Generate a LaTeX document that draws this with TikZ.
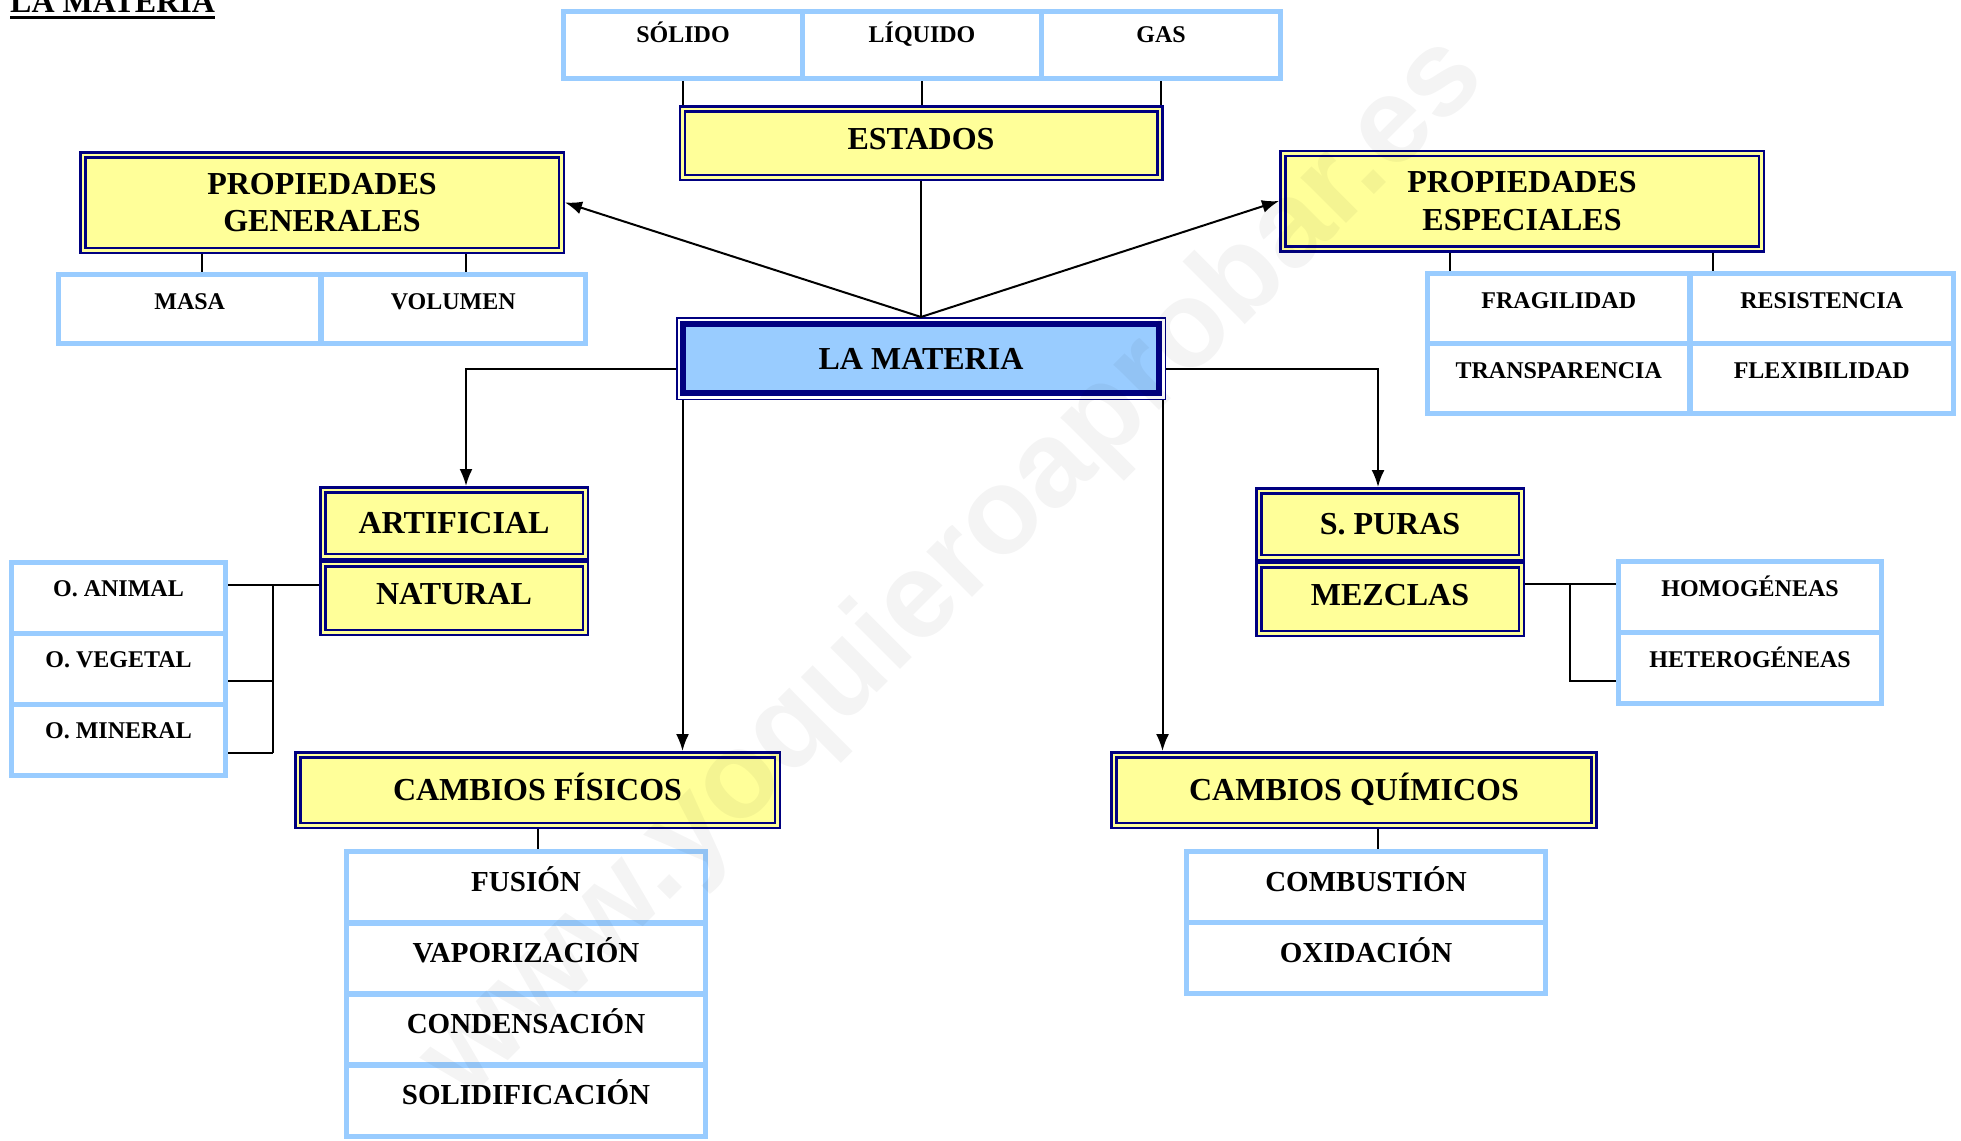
\documentclass[tikz,border=0pt]{standalone}
\usepackage{fontspec}
\setmainfont{Liberation Serif}
\newfontfamily\wmfont{Liberation Sans}
\usetikzlibrary{arrows.meta}
\definecolor{navyb}{HTML}{000080}
\definecolor{yfill}{HTML}{FFFF99}
\definecolor{lblue}{HTML}{99CCFF}
\begin{document}
\begin{tikzpicture}[x=1pt,y=-1pt,
  ybox/.style={draw=navyb, line width=2.5pt, double=yfill, double distance=2.5pt, fill=yfill,
    outer sep=3.75pt, inner sep=0pt, font=\bfseries\fontsize{32}{37.5}\selectfont, align=center},
  yone/.style={ybox, text height=21pt, text depth=0pt},
  cell/.style={draw=lblue, line width=5.5pt, fill=white, inner sep=0pt, outer sep=2.75pt,
    font=\bfseries\fontsize{24}{28}\selectfont, text height=16pt},
  bigcell/.style={cell, font=\bfseries\fontsize{29}{34}\selectfont, text height=19pt, text depth=11pt,
    minimum width=359pt, minimum height=71.25pt},
  conn/.style={line width=2pt, black},
  arr/.style={conn, -{Latex[length=17pt,width=13pt]}},
]
\useasboundingbox (0,0) rectangle (1961,1140);

% title
\node[anchor=base west, inner sep=0pt, font=\bfseries\fontsize{32}{36}\selectfont] (title) at (10,13) {LA MATERIA};
\draw[line width=3pt] ([yshift=-4.5pt]title.base west) -- ([yshift=-4.5pt]title.base east);

% states
\node[cell, minimum width=239pt, minimum height=67pt, text depth=20pt] (solido) at (683,45) {SÓLIDO};
\node[cell, minimum width=239pt, minimum height=67pt, text depth=20pt] (liquido) at (922,45) {LÍQUIDO};
\node[cell, minimum width=239pt, minimum height=67pt, text depth=20pt] (gas) at (1161,45) {GAS};
\node[yone, minimum width=477.5pt, minimum height=68.5pt, text depth=8pt] (estados) at (921,143) {ESTADOS};

% propiedades generales
\node[ybox, minimum width=478.5pt, minimum height=95.5pt] (pg) at (322,202.5) {PROPIEDADES\\GENERALES};
\node[cell, minimum width=262.5pt, minimum height=69pt, text depth=16pt] (masa) at (189.75,309) {MASA};
\node[cell, minimum width=264.5pt, minimum height=69pt, text depth=16pt] (volumen) at (453.25,309) {VOLUMEN};

% propiedades especiales
\node[ybox, minimum width=478.5pt, minimum height=95.5pt] (pe) at (1522,201) {PROPIEDADES\\ESPECIALES};
\node[cell, minimum width=262.5pt, minimum height=70pt, text depth=17pt] (frag) at (1558.75,308.5) {FRAGILIDAD};
\node[cell, minimum width=263.5pt, minimum height=70pt, text depth=17pt] (resist) at (1821.75,308.5) {RESISTENCIA};
\node[cell, minimum width=262.5pt, minimum height=70pt, text depth=17pt] (transp) at (1558.75,378.5) {TRANSPARENCIA};
\node[cell, minimum width=263.5pt, minimum height=70pt, text depth=17pt] (flex) at (1821.75,378.5) {FLEXIBILIDAD};

% la materia
\node[draw=navyb, line width=6pt, fill=lblue, inner sep=0pt, outer sep=7pt,
  minimum width=476pt, minimum height=69pt, text height=21pt, text depth=0pt,
  font=\bfseries\fontsize{32}{36}\selectfont] (lm) at (921,358.5) {LA MATERIA};
\draw[navyb, line width=1.5pt] ([xshift=0.75pt,yshift=-0.75pt]lm.north west) rectangle ([xshift=-0.75pt,yshift=0.75pt]lm.south east);

% artificial / natural
\node[yone, minimum width=262.5pt, minimum height=66.5pt] (art) at (454,523) {ARTIFICIAL};
\node[yone, minimum width=262.5pt, minimum height=68.5pt, text depth=8pt] (nat) at (454,598) {NATURAL};
\node[cell, minimum width=214pt, minimum height=71pt, text depth=19pt] (animal) at (118.5,598) {O. ANIMAL};
\node[cell, minimum width=214pt, minimum height=71pt, text depth=19pt] (vegetal) at (118.5,669) {O. VEGETAL};
\node[cell, minimum width=214pt, minimum height=71pt, text depth=19pt] (mineral) at (118.5,740) {O. MINERAL};

% s. puras / mezclas
\node[yone, minimum width=262.5pt, minimum height=66.5pt] (sp) at (1390,524) {S. PURAS};
\node[yone, minimum width=262.5pt, minimum height=68.5pt, text depth=8pt] (mez) at (1390,599) {MEZCLAS};
\node[cell, minimum width=263pt, minimum height=71pt, text depth=18pt] (hom) at (1750,597) {HOMOGÉNEAS};
\node[cell, minimum width=263pt, minimum height=71pt, text depth=18pt] (het) at (1750,668) {HETEROGÉNEAS};

% cambios fisicos
\node[yone, minimum width=479.5pt, minimum height=70.5pt] (cf) at (537.5,790) {CAMBIOS FÍSICOS};
\node[bigcell] (fusion) at (526,887.1) {FUSIÓN};
\node[bigcell] (vapor) at (526,958.4) {VAPORIZACIÓN};
\node[bigcell] (conden) at (526,1029.6) {CONDENSACIÓN};
\node[bigcell] (solid) at (526,1100.9) {SOLIDIFICACIÓN};

% cambios quimicos
\node[yone, minimum width=480pt, minimum height=70.5pt] (cq) at (1354,790) {CAMBIOS QUÍMICOS};
\node[bigcell, minimum height=71pt] (comb) at (1366,887) {COMBUSTIÓN};
\node[bigcell, minimum height=71pt] (oxid) at (1366,958) {OXIDACIÓN};

% connectors: estados
\draw[conn] (solido.south) -- (solido.south |- estados.north);
\draw[conn] (liquido.south) -- (liquido.south |- estados.north);
\draw[conn] (gas.south) -- (gas.south |- estados.north);
\draw[conn] (estados.south) -- (lm.north);

% propiedades
\draw[arr] (lm.north) -- (pg.east);
\draw[arr] (lm.north) -- (pe.west);
\coordinate (mc) at ([xshift=12pt]masa.north);
\coordinate (vc) at ([xshift=12.75pt]volumen.north);
\draw[conn] (mc) -- (mc |- pg.south);
\draw[conn] (vc) -- (vc |- pg.south);
\coordinate (fc) at ([xshift=-108.75pt]frag.north);
\coordinate (rc) at ([xshift=-108.75pt]resist.north);
\draw[conn] (fc) -- (fc |- pe.south);
\draw[conn] (rc) -- (rc |- pe.south);

% elbows
\draw[arr] ([yshift=-10.5pt]lm.west) -| ([xshift=12pt]art.north);
\draw[arr] ([yshift=-10.5pt]lm.east) -| ([xshift=-12pt]sp.north);

% verticals to cambios
\coordinate (lmL) at ([xshift=-238.5pt]lm.south);
\coordinate (lmR) at ([xshift=241.5pt]lm.south);
\draw[arr] (lmL) -- (lmL |- cf.north);
\draw[arr] (lmR) -- (lmR |- cq.north);
\draw[conn] (cf.south) -- (cf.south |- fusion.north);
\coordinate (cqc) at ([xshift=24pt]cq.south);
\draw[conn] (cqc) -- (cqc |- comb.north);

% natural branches
\coordinate (nb) at (273,585);
\coordinate (nb2) at (273,681);
\coordinate (nb3) at (273,752.5);
\draw[conn] (nat.west |- nb) -- (animal.east |- nb);
\draw[conn] (nb) -- (nb3);
\draw[conn] (nb2) -- (vegetal.east |- nb2);
\draw[conn] (nb3) -- (mineral.east |- nb3);

% mezclas branches
\coordinate (mb) at (1570,584);
\coordinate (mb2) at (1570,681);
\draw[conn] (mez.east |- mb) -- (hom.west |- mb);
\draw[conn] (mb) -- (mb2) -- (het.west |- mb2);

% watermark
\node[rotate=45, opacity=0.045, text=black, inner sep=0pt, font=\wmfont\bfseries\fontsize{122}{122}\selectfont] (wm) at (955,570) {www.yoquieroaprobar.es};
\end{tikzpicture}
\end{document}
